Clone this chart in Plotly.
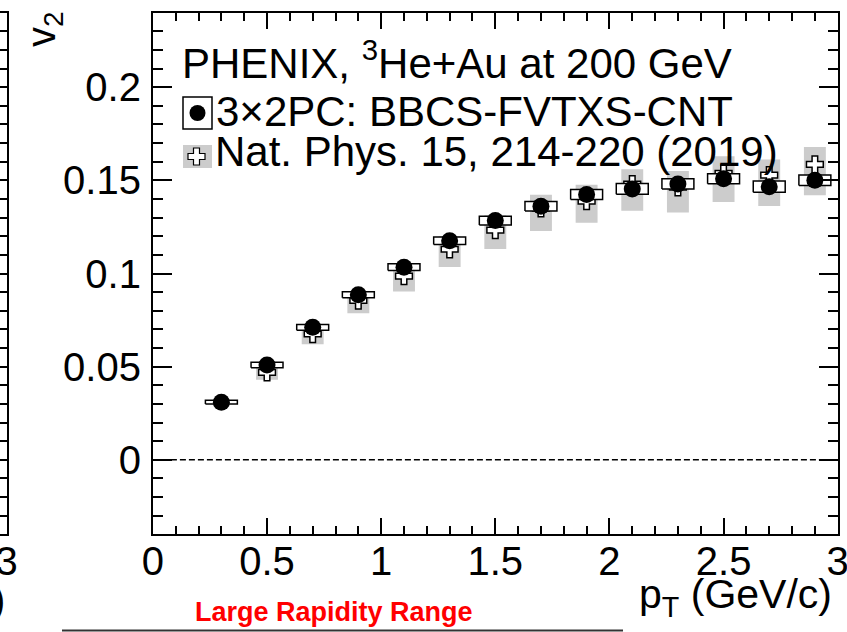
import plotly.graph_objects as go

W, H = 847, 632

# ---------------- data ----------------
pt_3x2 = [0.3, 0.5, 0.7, 0.9, 1.1, 1.3, 1.5, 1.7, 1.9, 2.1, 2.3, 2.5, 2.7, 2.9]
v2_3x2 = [0.0309, 0.0509, 0.0711, 0.0886, 0.1034, 0.1176, 0.1284, 0.1361,
          0.1424, 0.1454, 0.1481, 0.1509, 0.1466, 0.1501]
sys_3x2 = [0.0010, 0.0015, 0.0015, 0.0016, 0.0018, 0.0020, 0.0023, 0.0025,
           0.0027, 0.0029, 0.0027, 0.0027, 0.0030, 0.0028]

pt_nat = [0.5, 0.7, 0.9, 1.1, 1.3, 1.5, 1.7, 1.9, 2.1, 2.3, 2.5, 2.7, 2.9]
v2_nat = [0.0469, 0.0675, 0.0855, 0.0986, 0.1130, 0.1233, 0.1350, 0.1388,
          0.1480, 0.1463, 0.1538, 0.1528, 0.1586]
sys_nat_lo = [0.0040, 0.0055, 0.0069, 0.0082, 0.0095, 0.0102, 0.0122, 0.0116,
              0.0143, 0.0136, 0.0154, 0.0166, 0.0166]
sys_nat_hi = [0.0030, 0.0040, 0.0050, 0.0060, 0.0070, 0.0080, 0.0073, 0.0089,
              0.0080, 0.0087, 0.0091, 0.0084, 0.0093]

x_range = [0, 3]
y_range = [-0.04, 0.24]

legend_title = "PHENIX, <sup>3</sup>He+Au at 200 GeV"
legend_1 = "3×2PC: BBCS-FVTXS-CNT"
legend_2 = "Nat. Phys. 15, 214-220 (2019)"

FONT = "Liberation Sans, Arial, Helvetica, sans-serif"

# box half widths in pT units
W3 = 0.07
WN = 0.048


def boxes(xs, lo, hi, hw):
    bx, by = [], []
    for x, a, b in zip(xs, lo, hi):
        bx += [x - hw, x + hw, x + hw, x - hw, x - hw, None]
        by += [a, a, b, b, a, None]
    return bx, by


def px(x):
    return x / W


def py(y):
    return 1 - y / H


fig = go.Figure()

# Nat. Phys. systematic boxes (grey)
gx, gy = boxes(pt_nat,
               [v - l for v, l in zip(v2_nat, sys_nat_lo)],
               [v + h for v, h in zip(v2_nat, sys_nat_hi)], WN)
fig.add_trace(go.Scatter(x=gx, y=gy, mode="lines", fill="toself",
                         fillcolor="#cccccc",
                         line=dict(width=0, color="rgba(0,0,0,0)"),
                         hoverinfo="skip", showlegend=False))

# Nat. Phys. points (open cross)
fig.add_trace(go.Scatter(x=pt_nat, y=v2_nat, mode="markers",
                         marker=dict(symbol="cross", size=14, color="white",
                                     line=dict(color="black", width=1.5)),
                         showlegend=False))

# 3x2PC systematic boxes (white, black outline)
wx, wy = boxes(pt_3x2,
               [v - s for v, s in zip(v2_3x2, sys_3x2)],
               [v + s for v, s in zip(v2_3x2, sys_3x2)], W3)
fig.add_trace(go.Scatter(x=wx, y=wy, mode="lines", fill="toself",
                         fillcolor="white",
                         line=dict(width=1.5, color="black"),
                         hoverinfo="skip", showlegend=False))

# 3x2PC points
fig.add_trace(go.Scatter(x=pt_3x2, y=v2_3x2, mode="markers",
                         marker=dict(symbol="circle", size=17, color="black",
                                     line=dict(width=0)),
                         showlegend=False))

# dummy trace for the neighbouring (cropped) panel on the left
fig.add_trace(go.Scatter(x=[None], y=[None], xaxis="x2", yaxis="y2",
                         showlegend=False))

xd = [152.9 / W, 837.7 / W]
yd = [1 - 534.3 / H, 1 - 12.7 / H]

fig.update_layout(
    width=W, height=H,
    margin=dict(l=0, r=0, t=0, b=0, pad=0, autoexpand=False),
    paper_bgcolor="white", plot_bgcolor="white",
    font=dict(family=FONT, color="black", size=40),
    showlegend=False,
    xaxis=dict(domain=xd, range=x_range, anchor="y", automargin=False,
               showgrid=False, zeroline=False,
               showline=True, linewidth=2, linecolor="black", mirror="allticks",
               ticks="inside", ticklen=16, tickwidth=1.5, tickcolor="black",
               dtick=0.5, tick0=0,
               minor=dict(dtick=0.1, tick0=0, ticks="inside", ticklen=8,
                          tickwidth=1.5, tickcolor="black", showgrid=False),
               tickfont=dict(size=40, family=FONT, color="black"),
               ticklabeloverflow="allow",
               ticklabelstandoff=-9),
    yaxis=dict(domain=yd, range=y_range, anchor="x", automargin=False,
               showgrid=False, zeroline=False,
               showline=True, linewidth=2, linecolor="black", mirror="allticks",
               ticks="inside", ticklen=19, tickwidth=1.5, tickcolor="black",
               dtick=0.05, tick0=0,
               minor=dict(dtick=0.01, tick0=0, ticks="inside", ticklen=10,
                          tickwidth=1.5, tickcolor="black", showgrid=False),
               tickfont=dict(size=40, family=FONT, color="black"),
               ticklabeloverflow="allow",
               ticklabelstandoff=2),
    xaxis2=dict(domain=[0, 6.5 / W], range=[2.95, 3], anchor="y2",
                automargin=False,
                showgrid=False, zeroline=False,
                showline=True, linewidth=2, linecolor="black", mirror=True,
                ticks="", tickvals=[3], ticktext=["3"],
                tickfont=dict(size=40, family=FONT, color="black"),
                ticklabeloverflow="allow",
                ticklabelstandoff=-9),
    yaxis2=dict(domain=yd, range=y_range, anchor="x2", side="right",
                automargin=False,
                showgrid=False, zeroline=False,
                showline=True, linewidth=2, linecolor="black",
                ticks="inside", ticklen=19, tickwidth=1.5, tickcolor="black",
                dtick=0.05, tick0=0, showticklabels=False,
                minor=dict(dtick=0.01, tick0=0, ticks="inside", ticklen=10,
                           tickwidth=1.5, tickcolor="black", showgrid=False)),
)

# dashed zero line
fig.add_shape(type="line", xref="x domain", yref="y", x0=0, x1=1, y0=0, y1=0,
              line=dict(color="black", width=1.6, dash="6px,3px"), layer="below")

# ---------------- legend (custom) ----------------
def rect_px(x0, y0, x1, y1, **kw):
    fig.add_shape(type="rect", xref="paper", yref="paper",
                  x0=px(x0), x1=px(x1), y0=py(y1), y1=py(y0), **kw)


rect_px(183, 97, 212, 129, line=dict(color="black", width=1.5), fillcolor="white")
fig.add_shape(type="circle", xref="paper", yref="paper",
              x0=px(197.5 - 8), x1=px(197.5 + 8), y0=py(113 + 8), y1=py(113 - 8),
              fillcolor="black", line=dict(width=0))
rect_px(183, 145, 212, 168, line=dict(width=0), fillcolor="#cccccc")

cx, cy, a, b = 196.5, 156.5, 8.5, 3.0
pts = [(cx - b, cy - a), (cx + b, cy - a), (cx + b, cy - b), (cx + a, cy - b),
       (cx + a, cy + b), (cx + b, cy + b), (cx + b, cy + a), (cx - b, cy + a),
       (cx - b, cy + b), (cx - a, cy + b), (cx - a, cy - b), (cx - b, cy - b)]
path = "M " + " L ".join(f"{px(x):.5f},{py(y):.5f}" for x, y in pts) + " Z"
fig.add_shape(type="path", xref="paper", yref="paper", path=path,
              fillcolor="white", line=dict(color="black", width=1.2))


def text_px(x, y, s, size=42, xanchor="left", yanchor="middle", **kw):
    fig.add_annotation(x=px(x), y=py(y), xref="paper", yref="paper",
                       text=s, showarrow=False, xanchor=xanchor, yanchor=yanchor,
                       font=dict(size=size, family=FONT, color=kw.pop("color", "black")),
                       **kw)


text_px(180, 60, legend_title)
text_px(214, 111, legend_1)
text_px(213, 152, legend_2)

# axis titles
text_px(834, 597, "p<sub>T</sub> (GeV/c)", size=41, xanchor="right")
text_px(44, 29, "v<sub>2</sub>", size=40, xanchor="center", textangle=-90)

# cropped surroundings
text_px(7, 600, ")", size=40, xanchor="right")
text_px(193, 612, "<b>Large Rapidity Range</b>", size=27, color="#ff0000")
fig.add_shape(type="line", xref="paper", yref="paper",
              x0=px(62), x1=px(623), y0=py(630.5), y1=py(630.5),
              line=dict(color="#333333", width=2))

fig.write_html("out.html")
